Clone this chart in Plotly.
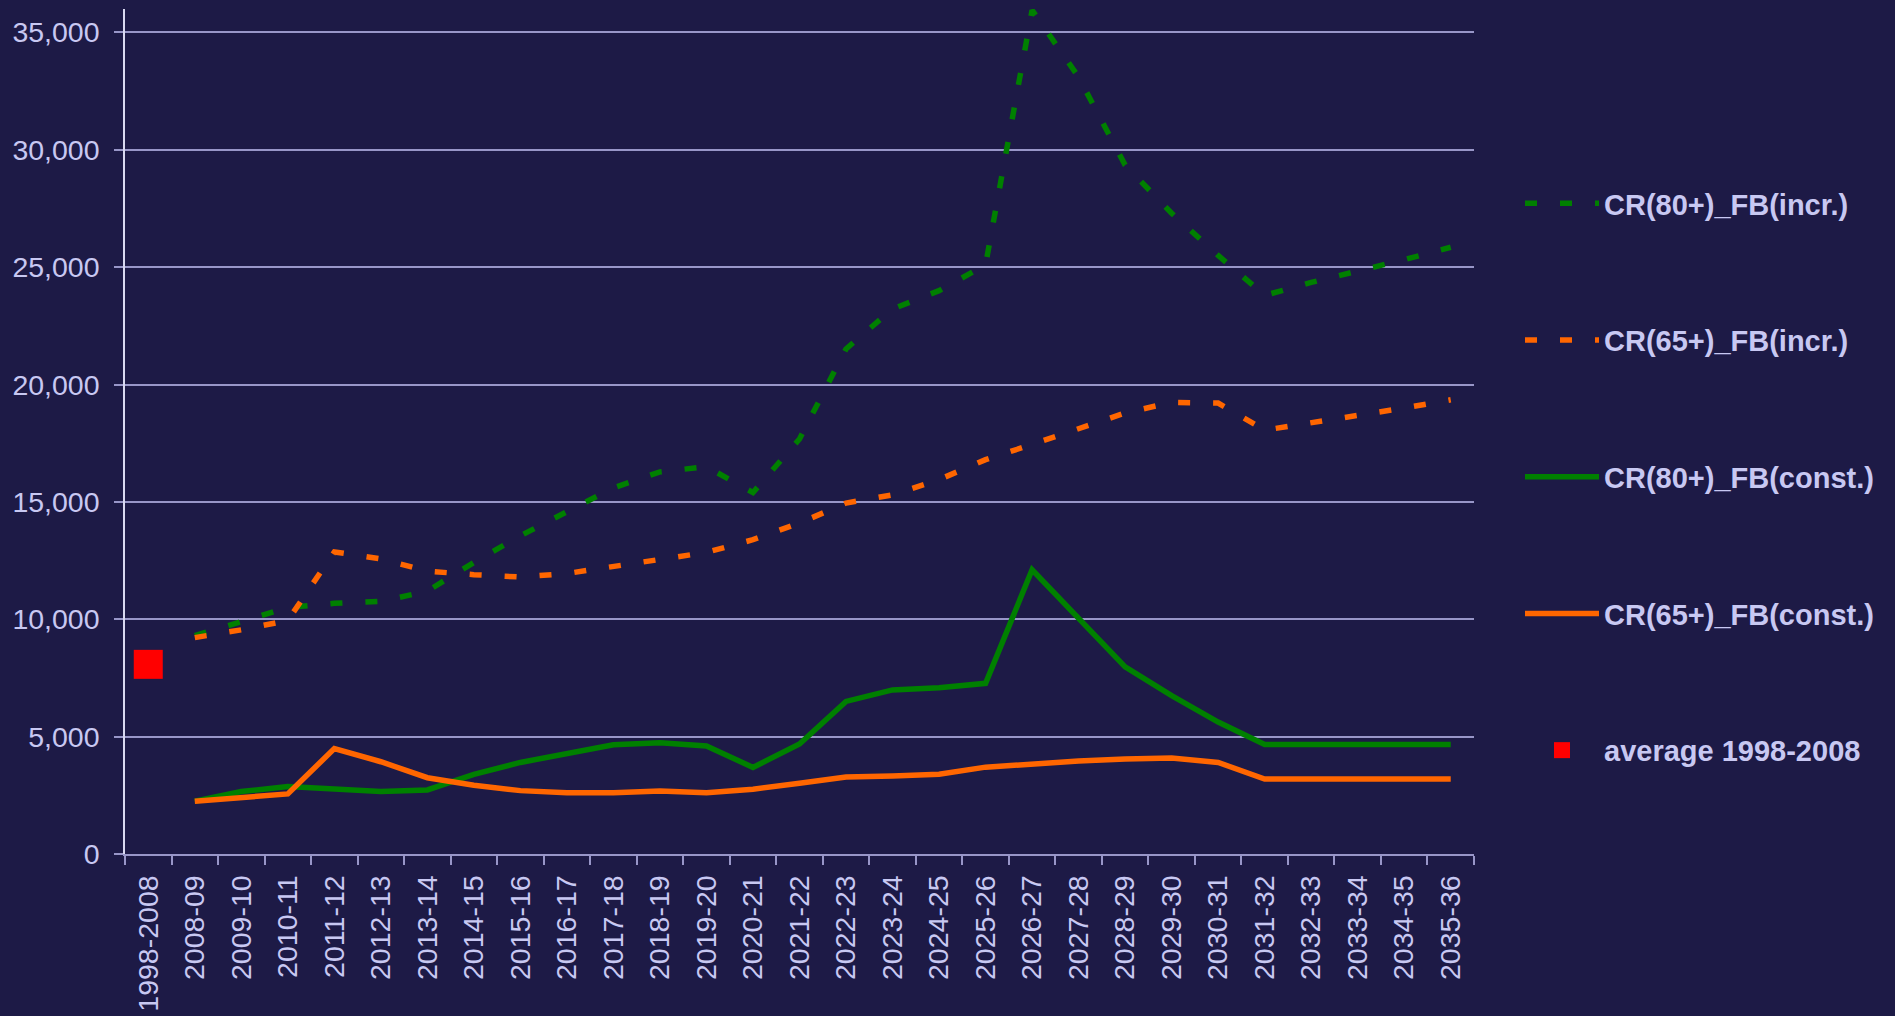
import plotly.graph_objects as go

categories = ["1998-2008", "2008-09", "2009-10", "2010-11", "2011-12", "2012-13", "2013-14",
              "2014-15", "2015-16", "2016-17", "2017-18", "2018-19", "2019-20", "2020-21",
              "2021-22", "2022-23", "2023-24", "2024-25", "2025-26", "2026-27", "2027-28",
              "2028-29", "2029-30", "2030-31", "2031-32", "2032-33", "2033-34", "2034-35",
              "2035-36"]

proj_categories = categories[1:]

cr80_incr = [9300, 9900, 10500, 10680, 10760, 11200, 12420, 13560, 14600, 15600, 16280, 16500,
             15400, 17680, 21520, 23220, 24000, 25100, 35950, 33100, 29350, 27300, 25500, 23800,
             24350, 24820, 25320, 25850]
cr65_incr = [9220, 9550, 9950, 12870, 12570, 12050, 11900, 11800, 11950, 12250, 12600, 12850,
             13390, 14100, 14950, 15300, 15950, 16800, 17450, 18150, 18790, 19240, 19210, 18060,
             18360, 18650, 19000, 19350]
cr80_const = [2250, 2660, 2880, 2760, 2660, 2730, 3390, 3900, 4300, 4650, 4740, 4600, 3690, 4690,
              6500, 6990, 7080, 7270, 12110, 10030, 7970, 6750, 5620, 4670, 4670, 4670, 4670, 4670]
cr65_const = [2250, 2410, 2560, 4490, 3930, 3250, 2930, 2700, 2610, 2610, 2680, 2610, 2760, 3010,
              3280, 3320, 3400, 3700, 3850, 3960, 4050, 4090, 3900, 3190, 3190, 3190, 3190, 3190]
average_cat = ["1998-2008"]
average_val = [8080]

y_ticks = [0, 5000, 10000, 15000, 20000, 25000, 30000, 35000]

GREEN = "#008000"
ORANGE = "#ff6600"
RED = "#ff0000"
BG = "#1d1a46"
TXT = "#c8c8f2"
GRID = "#9896c8"
DASH = "12px,23px"

fig = go.Figure()
fig.add_trace(go.Scatter(x=proj_categories, y=cr80_incr, mode="lines", name="CR(80+)_FB(incr.)",
                         line=dict(color=GREEN, width=5.5, dash=DASH), legendgroup="a"))
fig.add_trace(go.Scatter(x=proj_categories, y=cr65_incr, mode="lines", name="CR(65+)_FB(incr.)",
                         line=dict(color=ORANGE, width=5.5, dash=DASH), legendgroup="b"))
fig.add_trace(go.Scatter(x=proj_categories, y=cr80_const, mode="lines", name="CR(80+)_FB(const.)",
                         line=dict(color=GREEN, width=5.5), legendgroup="c"))
fig.add_trace(go.Scatter(x=proj_categories, y=cr65_const, mode="lines", name="CR(65+)_FB(const.)",
                         line=dict(color=ORANGE, width=5.5), legendgroup="d"))
fig.add_trace(go.Scatter(x=average_cat, y=average_val, mode="markers", name="average 1998-2008",
                         marker=dict(color=RED, size=29, symbol="square"), legendgroup="e"))

fig.update_layout(
    width=1895, height=1016, autosize=False,
    margin=dict(l=125, r=421, t=9, b=162),
    paper_bgcolor=BG, plot_bgcolor=BG,
    font=dict(family="Liberation Sans, Arial, sans-serif", color=TXT, size=28.5),
    showlegend=True,
    legend=dict(x=1.0341, xanchor="left", y=0.800, yanchor="top",
                font=dict(family="Liberation Sans, Arial, sans-serif", size=29, color=TXT, weight="bold"),
                itemwidth=74, tracegroupgap=96, bgcolor="rgba(0,0,0,0)"),
)
fig.update_xaxes(type="category", categoryorder="array", categoryarray=categories,
                 range=[-0.5, len(categories) - 0.5], tickangle=-90, automargin=False,
                 tickson="boundaries", ticks="outside", ticklen=9, tickwidth=1.5, tickcolor=GRID,
                 showline=True, linecolor=GRID, linewidth=2, showgrid=False, zeroline=False,
                 ticklabelstandoff=8, tickfont=dict(size=28.5, color=TXT))
fig.update_yaxes(range=[0, 36000], tickvals=y_ticks, tickformat=",d", automargin=False,
                 ticks="outside", ticklen=9, tickwidth=1.5, tickcolor=GRID,
                 showline=True, linecolor="#d8d8f0", linewidth=1.5,
                 showgrid=True, gridcolor=GRID, gridwidth=1.5, zeroline=False,
                 ticklabelstandoff=9, tickfont=dict(size=28.5, color=TXT))

fig.write_html("out.html", config={"displayModeBar": False},
               post_script="document.body.style.margin='0';document.body.style.overflow='hidden';")
